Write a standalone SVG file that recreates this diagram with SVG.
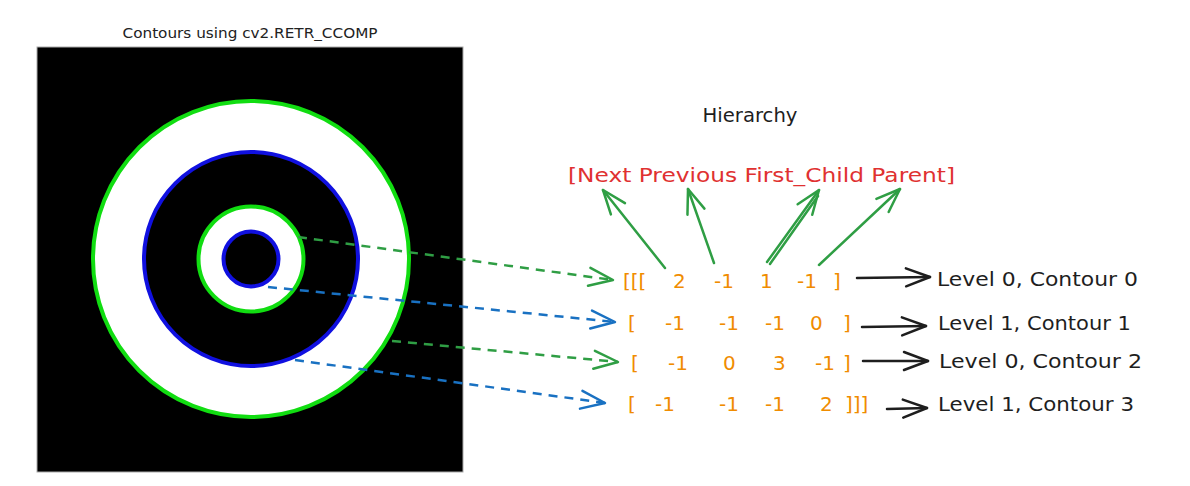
<svg xmlns="http://www.w3.org/2000/svg" width="1190" height="486" viewBox="0 0 1190 486">
<style>
.title{font-family:"DejaVu Sans",sans-serif;font-size:14.5px;fill:#222}
.hand{font-family:"DejaVu Sans","Liberation Sans",sans-serif;}
.red{font-size:20px;fill:#e03131}
.org{font-size:20px;fill:#f08c00}
.blk{font-size:19px;fill:#1e1e1e}
.dg{fill:none;stroke:#2f9e44;stroke-width:2.5;stroke-dasharray:9 7}
.db{fill:none;stroke:#1971c2;stroke-width:2.5;stroke-dasharray:9 7}
.sg{fill:none;stroke:#2f9e44;stroke-width:2.5;stroke-linecap:round}
.sk{fill:none;stroke:#1e1e1e;stroke-width:2.5;stroke-linecap:round}
</style>
<defs>
<marker id="hg" viewBox="-30 -15 32 30" refX="0" refY="0" markerWidth="32" markerHeight="30" markerUnits="userSpaceOnUse" orient="auto"><path d="M-24,-9 L0,0 L-24,9" fill="none" stroke="#2f9e44" stroke-width="2.5" stroke-linecap="round" stroke-linejoin="round"/></marker>
<marker id="hb" viewBox="-30 -15 32 30" refX="0" refY="0" markerWidth="32" markerHeight="30" markerUnits="userSpaceOnUse" orient="auto"><path d="M-24,-9 L0,0 L-24,9" fill="none" stroke="#1971c2" stroke-width="2.5" stroke-linecap="round" stroke-linejoin="round"/></marker>
<marker id="hk" viewBox="-30 -15 32 30" refX="0" refY="0" markerWidth="32" markerHeight="30" markerUnits="userSpaceOnUse" orient="auto"><path d="M-24,-9 L0,0 L-24,9" fill="none" stroke="#1e1e1e" stroke-width="2.5" stroke-linecap="round" stroke-linejoin="round"/></marker>
</defs>
<rect width="1190" height="486" fill="#ffffff"/>
<g id="image">
<text class="title" x="250" y="38" text-anchor="middle" textLength="255" lengthAdjust="spacingAndGlyphs">Contours using cv2.RETR_CCOMP</text>
<rect x="37" y="47" width="426" height="425" fill="#000" stroke="#aaa" stroke-width="1"/>
<circle cx="251" cy="259" r="158" fill="#fff" stroke="#11dd11" stroke-width="4"/>
<circle cx="251" cy="259" r="107" fill="#000" stroke="#1010e0" stroke-width="4"/>
<circle cx="251" cy="259" r="52.5" fill="#fff" stroke="#11dd11" stroke-width="4"/>
<circle cx="251" cy="259" r="27.5" fill="#000" stroke="#1010e0" stroke-width="4"/>
</g>
<g id="hierarchy-title">
<text class="hand blk" x="750" y="122" text-anchor="middle" textLength="95" lengthAdjust="spacingAndGlyphs">Hierarchy</text>
</g>
<g id="fields">
<text class="hand red" x="568" y="182" textLength="387" lengthAdjust="spacingAndGlyphs">[Next Previous First_Child Parent]</text>
</g>
<g id="row0" class="hand org">
<text x="623" y="288">[[[</text><text x="673" y="288">2</text><text x="714" y="288">-1</text><text x="760" y="288">1</text><text x="797" y="288">-1</text><text x="833" y="288">]</text>
</g>
<g id="row1" class="hand org">
<text x="628" y="330">[</text><text x="665" y="330">-1</text><text x="719" y="330">-1</text><text x="765" y="330">-1</text><text x="810" y="330">0</text><text x="843" y="330">]</text>
</g>
<g id="row2" class="hand org">
<text x="631" y="370">[</text><text x="668" y="370">-1</text><text x="723" y="370">0</text><text x="773" y="370">3</text><text x="815" y="370">-1</text><text x="843" y="370">]</text>
</g>
<g id="row3" class="hand org">
<text x="628" y="411">[</text><text x="655" y="411">-1</text><text x="719" y="411">-1</text><text x="765" y="411">-1</text><text x="820" y="411">2</text><text x="845" y="411">]]]</text>
</g>
<g id="labels" class="hand blk">
<text x="937" y="286" textLength="201" lengthAdjust="spacingAndGlyphs">Level 0, Contour 0</text>
<text x="938" y="330" textLength="193" lengthAdjust="spacingAndGlyphs">Level 1, Contour 1</text>
<text x="939" y="368" textLength="203" lengthAdjust="spacingAndGlyphs">Level 0, Contour 2</text>
<text x="938" y="411" textLength="196" lengthAdjust="spacingAndGlyphs">Level 1, Contour 3</text>
</g>
<g id="connectors">
<path class="dg" d="M298,237 L613,280" marker-end="url(#hg)"/>
<path class="db" d="M268,287 L615,322" marker-end="url(#hb)"/>
<path class="dg" d="M392,341 L618,362" marker-end="url(#hg)"/>
<path class="db" d="M295,360 L605,403" marker-end="url(#hb)"/>
<path class="sg" d="M665,268 L603,190" marker-end="url(#hg)"/>
<path class="sg" d="M714,263 L688,189" marker-end="url(#hg)"/>
<path class="sg" d="M767,262 L819,190" marker-end="url(#hg)"/>
<path class="sg" d="M770,264 L818,196"/>
<path class="sg" d="M819,265 L900,189" marker-end="url(#hg)"/>
<path class="sk" d="M857,278 L930,277" marker-end="url(#hk)"/>
<path class="sk" d="M862,327 L926,326" marker-end="url(#hk)"/>
<path class="sk" d="M863,361 L928,361" marker-end="url(#hk)"/>
<path class="sk" d="M887,409 L927,408" marker-end="url(#hk)"/>
</g>
</svg>
